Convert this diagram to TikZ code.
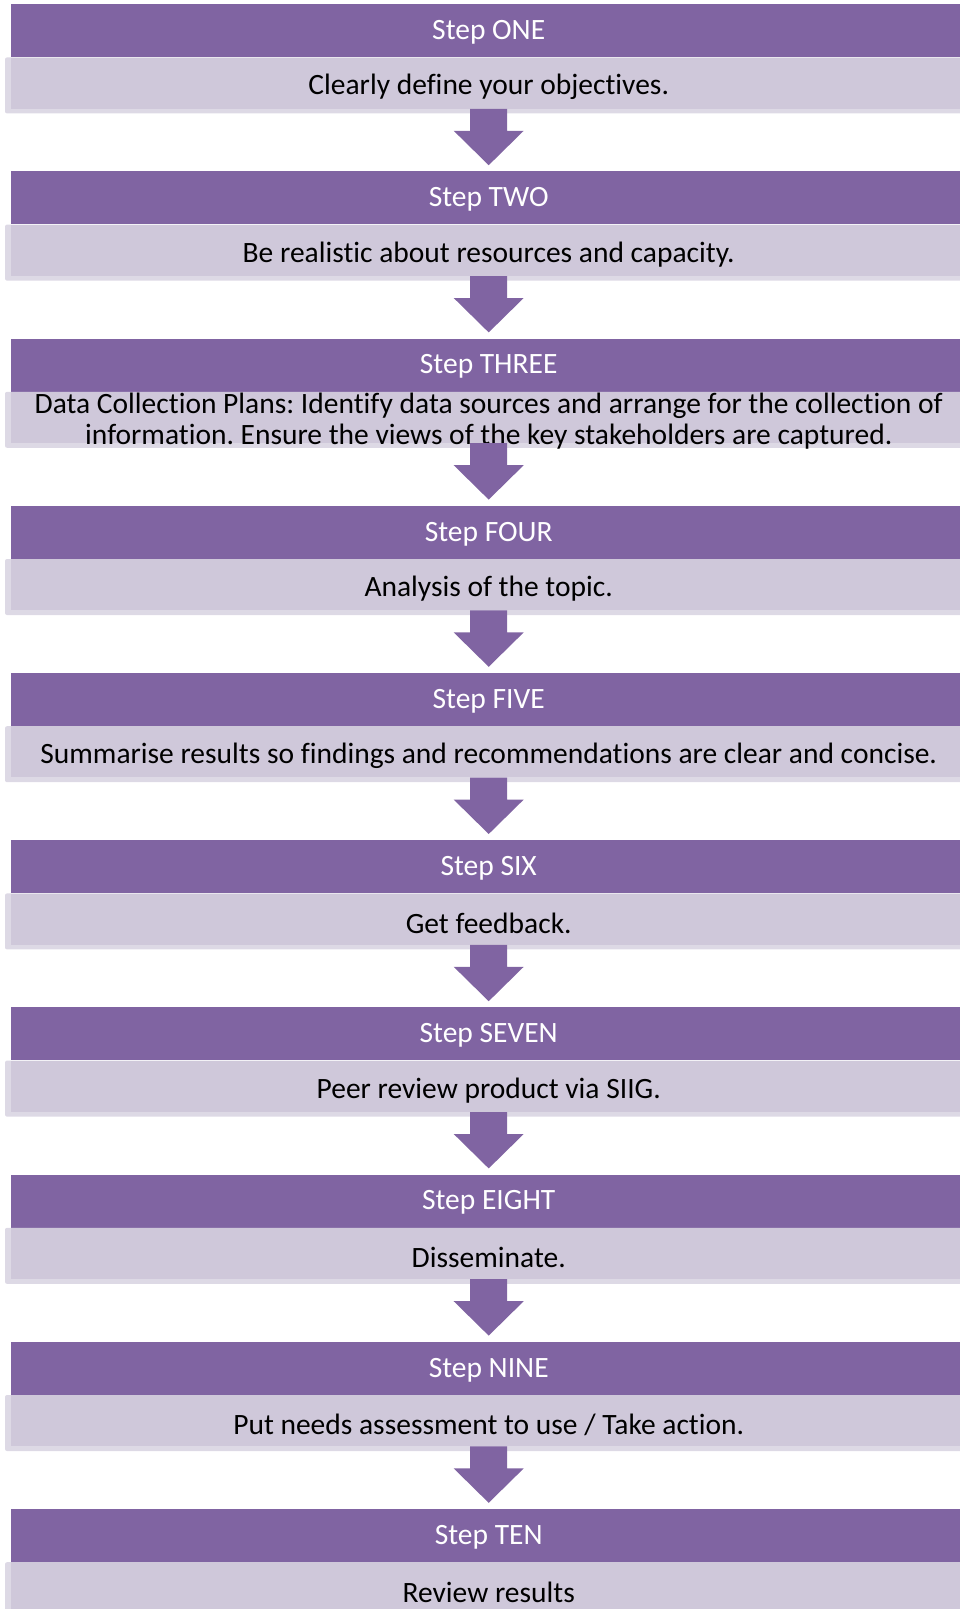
\documentclass[tikz,border=0pt]{standalone}
\usepackage{fontspec}
\setmainfont{Carlito}[Ligatures=NoCommon]
\frenchspacing
\usetikzlibrary{calc}

\definecolor{steppurple}{RGB}{128,100,162}
\definecolor{steplight}{RGB}{207,200,218}
\definecolor{steprim}{RGB}{221,217,229}

\tikzset{
    stephead/.style={fill=steppurple, text=white, anchor=north west, inner sep=0pt,
        minimum width=955pt, minimum height=53pt, text height=23pt, text depth=5.5pt,
        font=\fontsize{29.5}{32}\selectfont},
    stepbox/.style={fill=steplight, anchor=north west, inner sep=0pt,
        minimum width=955pt, minimum height=51pt},
    steptext/.style={align=center, inner sep=0pt, font=\fontsize{29.5}{31}\selectfont},
    steparrow/.style={fill=steppurple}
}

\begin{document}
\begin{tikzpicture}[x=1pt, y=-1pt]
        \useasboundingbox (0,0) rectangle (960,1609);
        \clip (0,0) rectangle (960,1609);
        \pgfmathsetmacro{\stepgap}{167.2}
        % header bar and text box for every step
        \foreach \word/\txt [count=\i from 0] in {
                ONE/{Clearly define your objectives.},
                TWO/{Be realistic about resources and capacity.},
                THREE/{Data Collection Plans: Identify data sources and arrange for the collection of\\information. Ensure the views of the key stakeholders are captured.},
                FOUR/{Analysis of the topic.},
                FIVE/{Summarise results so findings and recommendations are clear and concise.},
                SIX/{Get feedback.},
                SEVEN/{Peer review product via SIIG.},
                EIGHT/{Disseminate.},
                NINE/{Put needs assessment to use / Take action.},
                TEN/{Review results}}{
                \node [stephead] (head\i) at (11, {4+\i*\stepgap}) {Step \word};
                \fill [steprim, rounded corners=2pt] ($(head\i.south west)+(-6,0)$) rectangle ($(head\i.south east)+(6,56)$);
                \node [stepbox] (box\i) at (head\i.south west) {};
                \node [steptext] (text\i) at ($(box\i.center)+(0,4)$) {\txt};
            }
        % block arrows between the steps
        \foreach \i [evaluate=\i as \j using int(\i+1)] in {0,...,8}{
                \fill [steparrow] ($(box\i.south)+(-18.5,0)$) -- ++(0,22) -- ++(-16.5,0)
                    -- ($(head\j.north)+(0,-6)$) -- ($(box\i.south)+(35,22)$)
                    -- ++(-16.5,0) -- ($(box\i.south)+(18.5,0)$) -- cycle;
            }
    \end{tikzpicture}
\end{document}
